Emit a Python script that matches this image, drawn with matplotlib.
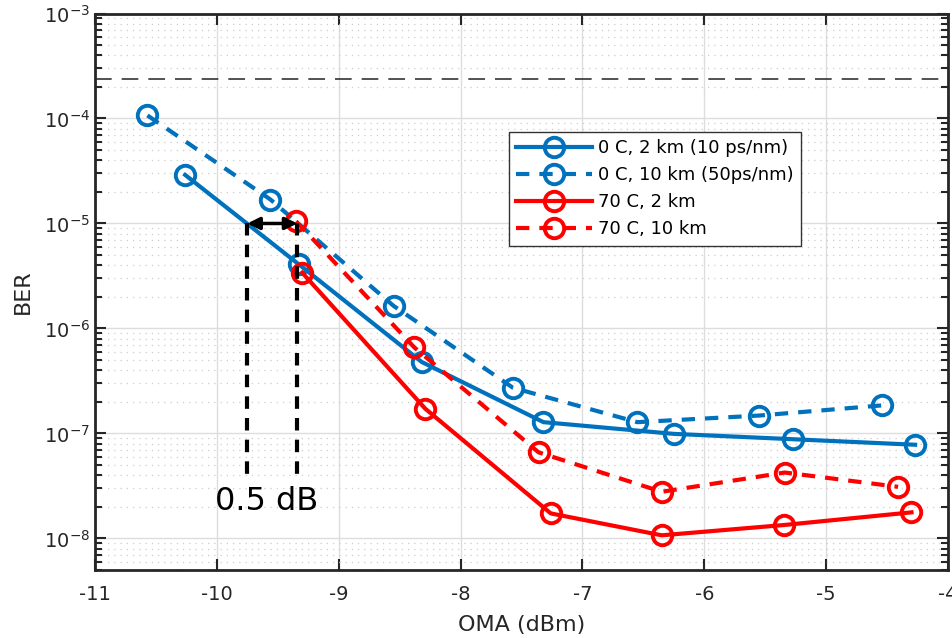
import matplotlib
matplotlib.use("Agg")
import matplotlib.pyplot as plt
from matplotlib.ticker import LogLocator, MultipleLocator, NullFormatter

# BER vs received OMA for the two temperatures and fibre lengths
oma_0c_2km = [-10.26, -9.33, -8.32, -7.32, -6.25, -5.27, -4.27]
ber_0c_2km = [2.9e-5, 4.1e-6, 4.8e-7, 1.28e-7, 9.9e-8, 8.8e-8, 7.8e-8]

oma_0c_10km = [-10.57, -9.56, -8.55, -7.57, -6.55, -5.55, -4.54]
ber_0c_10km = [1.07e-4, 1.69e-5, 1.64e-6, 2.72e-7, 1.28e-7, 1.48e-7, 1.85e-7]

oma_70c_2km = [-9.30, -8.29, -7.26, -6.35, -5.35, -4.30]
ber_70c_2km = [3.4e-6, 1.72e-7, 1.73e-8, 1.07e-8, 1.34e-8, 1.77e-8]

oma_70c_10km = [-9.35, -8.38, -7.36, -6.35, -5.34, -4.41]
ber_70c_10km = [1.05e-5, 6.6e-7, 6.6e-8, 2.78e-8, 4.24e-8, 3.1e-8]

FEC_LIMIT = 2.4e-4
PENALTY_BER = 1e-5
PENALTY_X = [-9.75, -9.34]

BLUE = "#0072BD"
RED = "#FF0000"

plt.rcParams["font.family"] = "DejaVu Sans"
plt.rcParams["axes.unicode_minus"] = False

fig = plt.figure(figsize=(9.53, 6.38), dpi=100)
ax = fig.add_axes([0.0997, 0.1066, 0.8951, 0.8722])

mk = dict(marker="o", markersize=14, markerfacecolor="none", markeredgewidth=2.8, linewidth=3)
ax.plot(oma_0c_2km, ber_0c_2km, "-", color=BLUE, label="0 C, 2 km (10 ps/nm)", **mk)
ax.plot(oma_0c_10km, ber_0c_10km, "--", color=BLUE, label="0 C, 10 km (50ps/nm)", dashes=(3.2, 2.4), **mk)
ax.plot(oma_70c_2km, ber_70c_2km, "-", color=RED, label="70 C, 2 km", **mk)
ax.plot(oma_70c_10km, ber_70c_10km, "--", color=RED, label="70 C, 10 km", dashes=(3.2, 2.4), **mk)

ax.axhline(FEC_LIMIT, color="#333333", linewidth=1.2, dashes=(10, 6))

# 0.5 dB penalty marker
ax.annotate("", xy=(PENALTY_X[0], PENALTY_BER), xytext=(PENALTY_X[1], PENALTY_BER),
            arrowprops=dict(arrowstyle="<|-|>", color="black", lw=2.5,
                            mutation_scale=18, shrinkA=0, shrinkB=0))
ax.plot([PENALTY_X[0]] * 2, [PENALTY_BER, 3.5e-8], color="black", lw=3, dashes=(3, 2.2))
ax.plot([PENALTY_X[1]] * 2, [PENALTY_BER, 4.0e-8], color="black", lw=3, dashes=(3, 2.2))
ax.text(sum(PENALTY_X) / 2 - 0.05, 2.25e-8, "0.5 dB", fontsize=23, ha="center", va="center")

ax.set_yscale("log")
ax.set_xlim(-11, -4)
ax.set_ylim(5e-9, 1e-3)
ax.xaxis.set_major_locator(MultipleLocator(1))
ax.yaxis.set_major_locator(LogLocator(base=10, numticks=20))
ax.yaxis.set_minor_locator(LogLocator(base=10, subs=range(2, 10), numticks=20))
ax.yaxis.set_minor_formatter(NullFormatter())

ax.grid(True, which="major", color="#dddddd", linewidth=1)
ax.grid(True, which="minor", axis="y", color="#cccccc", linewidth=0.9, linestyle=(0, (1, 4)))
ax.set_axisbelow(True)
for s in ax.spines.values():
    s.set_linewidth(2)
    s.set_color("#262626")
ax.tick_params(which="both", direction="in", top=True, right=True, colors="#262626",
               labelsize=14, width=1.5)
ax.tick_params(which="major", length=8)
ax.tick_params(which="minor", length=5)
ax.tick_params(axis="x", pad=11)

ax.set_xlabel("OMA (dBm)", fontsize=16, color="#262626", labelpad=8)
ax.set_ylabel("BER", fontsize=16, color="#262626", labelpad=8)

leg = ax.legend(loc="upper left", bbox_to_anchor=(0.485, 0.787), fontsize=13,
                handlelength=4.2, fancybox=False, framealpha=1, borderpad=0.4,
                labelspacing=0.5, handletextpad=0.35, borderaxespad=0)
leg.get_frame().set_edgecolor("#333333")
leg.get_frame().set_linewidth(1)

fig.savefig("out.png", dpi=100)
